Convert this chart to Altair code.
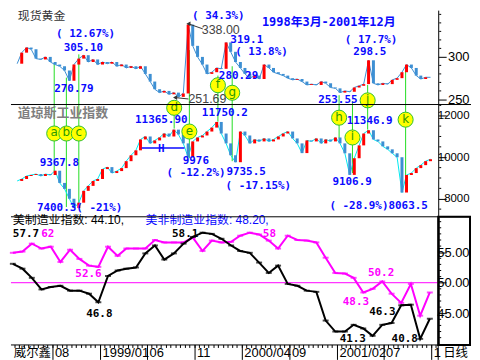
import altair as alt
import pandas as pd

# ---------------- data ----------------
series_start, series_end, n_points = "1998-03-23", "2001-12-13", 88

gold_close = [
    292, 305, 311, 309, 298, 297, 300, 294, 291, 289,
    284, 272, 291, 298, 302, 294, 297, 291, 294, 292,
    294, 289, 291, 287, 289, 286, 289, 280, 271, 262,
    258, 260, 256, 258, 253, 257, 338, 313, 300, 291,
    280, 282, 287, 286, 317, 306, 294, 287, 280, 275,
    278, 274, 291, 287, 282, 280, 278, 275, 273, 274,
    271, 267, 268, 267, 271, 269, 264, 263, 258, 260,
    259, 264, 266, 268, 296, 269, 267, 269, 268, 273,
    275, 282, 291, 287, 278, 274, 276, 276,
]

dow_close = [
    8857, 8952, 9095, 9143, 9190, 9095, 9190, 9143, 9350, 8762,
    8476, 8000, 7550, 7810, 8381, 8619, 8857, 8952, 9429, 9524,
    9238, 9333, 9476, 9810, 10095, 10333, 10857, 11000, 10667, 10810,
    10952, 11143, 11000, 11330, 11095, 10667, 10000, 10762, 10952, 11048,
    11238, 11429, 11700, 11143, 10667, 10095, 9760, 11238, 11048, 10667,
    10857, 10762, 10905, 10762, 10857, 11000, 11143, 11238, 10905, 10667,
    10200, 10810, 10762, 10905, 10667, 10857, 10762, 10952, 10667, 10190,
    9150, 9952, 10571, 11143, 11300, 10857, 10762, 10524, 10381, 10190,
    10000, 8300, 9143, 9238, 9476, 9619, 9810, 9905,
]

pmi_first_month = "1998-03-25"
pmi_mfg = [
    53.1, 52.3, 50.8, 48.9, 49.3, 49.5, 48.7, 48.7, 48.2, 46.8,
    51.1, 52.0, 52.3, 52.5, 54.8, 56.1, 53.8, 54.8, 56.4, 57.5,
    58.2, 58.0, 57.2, 56.1, 55.2, 54.9, 53.3, 51.6, 52.8, 49.8,
    49.5, 48.7, 48.5, 43.8, 42.0, 42.0, 43.1, 42.5, 41.3, 43.1,
    43.4, 46.3, 46.4, 40.8, 44.1,
]
pmi_nonmfg = [
    54.9, 55.1, 56.4, 55.6, 55.9, 53.4, 55.4, 53.9, 52.8, 52.6,
    55.9, 54.4, 55.6, 55.6, 55.6, 57.0, 56.6, 56.6, 56.6, 57.4,
    55.2, 56.9, 56.6, 56.7, 57.7, 58.2, 57.9, 56.9, 55.6, 57.7,
    57.0, 56.9, 56.6, 54.1, 51.6, 51.5, 50.8, 48.4, 49.0, 50.2,
    48.2, 46.7, 49.8, 44.6, 48.4,
]

# axis ticks
gold_major = [250, 300]
gold_minor = [260, 270, 280, 290, 310, 320, 330, 340, 350]
dow_major = [8000, 10000, 12000]
dow_minor = [7500, 8500, 9000, 9500, 10500, 11000, 11500, 12500]
pmi_major = [45, 50, 55]
pmi_minor = [41, 42, 43, 44, 46, 47, 48, 49, 51, 52, 53, 54, 56, 57, 58, 59, 60]

# marked events (letters in yellow circles, green vertical lines)
event_letters = ["a", "b", "c", "d", "e", "f", "g", "h", "i", "j", "k"]
event_dates = ["1998-07-23", "1998-09-01", "1998-10-12", "1999-08-22", "1999-10-11",
               "2000-01-13", "2000-02-29", "2001-02-15", "2001-03-31", "2001-05-20", "2001-09-22"]
event_gold_top = [292, 275.6, 303, None, 308, 278, 289, 255, 248, 267, 283]
event_dow_bottom = [9333, 7600, 7600, 11381, 9952, 11714, 9810, 10905, 9238, 11333, 8700]
event_circle_panel = ["dow", "dow", "dow", "dow", "dow", "gold", "gold", "dow", "dow", "gold", "dow"]
event_circle_value = [11143, 11143, 11143, 12381, 11238, 266.7, 257.8, 11905, 10952, 248.9, 11810]

# annotations
gold_blue_text = ["( 12.67%)", "305.10", "270.79", "( 34.3%)", "319.1", "( 13.8%)",
                  "280.29", "( 17.7%)", "298.5", "253.55"]
gold_blue_date = ["1998-07-29", "1998-08-23", "1998-07-23", "1999-10-20", "2000-02-23",
                  "2000-03-10", "2000-01-16", "2001-03-06", "2001-04-03", "2000-12-08"]
gold_blue_value = [327.4, 311, 262.8, 347.8, 319.8, 305.4, 277, 320, 305.4, 249.6]
gold_grey_text = ["338.00", "251.69"]
gold_grey_date = ["1999-11-21", "1999-10-08"]
gold_grey_value = [332, 251]
gold_arrow_from = ["1999-10-08", "1999-08-25"]
gold_arrow_to = ["1999-11-24", "1999-10-08"]
gold_arrow_v1 = [338.9, 252.2]
gold_arrow_v2 = [333.0, 250.5]

dow_blue_text = ["9367.8", "7400.3( -21%)", "11365.90", "9976", "( -12.2%)", "11750.2",
                 "9735.5", "( -17.15%)", "11346.9", "9106.9", "( -28.9%)8063.5", "H"]
dow_blue_date = ["1998-06-05", "1998-05-27", "1999-04-15", "1999-09-19", "1999-07-28",
                 "1999-11-21", "2000-02-10", "2000-02-07", "2001-03-12", "2001-01-24",
                 "2001-01-14", "1999-06-30"]
dow_blue_value = [9739, 7570, 11777, 9840, 9245, 12109, 9265, 8601, 11730, 8791, 7653, 10403]
dow_h_line = ["1999-05-07", "1999-09-25", 10450]

pmi_black_text = ["57.7", "46.8", "58.1", "46.3", "41.3", "40.8"]
pmi_black_date = ["1998-03-25", "1998-11-16", "1999-08-19", "2001-05-14", "2001-02-08", "2001-07-25"]
pmi_black_value = [58.0, 44.9, 57.95, 45.2, 40.7, 40.7]
pmi_mag_text = ["62", "52.6", "58", "50.2", "48.3"]
pmi_mag_date = ["1998-06-24", "1998-10-12", "2000-06-06", "2001-05-10", "2001-02-18"]
pmi_mag_value = [58.0, 51.5, 58.0, 51.6, 46.9]

x_label_dates = ["1998-08-01", "1999-01-01", "1999-06-01", "1999-11-01", "2000-04-01",
                 "2000-09-01", "2001-02-01", "2001-07-01", "2001-12-01"]
x_label_text = ["08", "1999/01", "06", "11", "2000/04", "09", "2001/02", "07", "1"]

# ---------------- layout / helpers ----------------
W = 430
RIGHT = 33
H_GOLD, H_DOW, H_PMI, H_AXIS = 95, 113, 129, 15
BLUE = "#0a0aff"
MAG = "#ff00ff"
GREEN = "#22dd22"
MONO = "DejaVu Sans Mono"
SANS = "Liberation Sans, Noto Sans CJK SC"

D0 = alt.DateTime(year=1998, month=3, date=19, utc=True)
D1 = alt.DateTime(year=2001, month=12, date=22, utc=True)
XS = alt.Scale(domain=[D0, D1])
one = pd.DataFrame({"k": [0]})

series_dates = pd.date_range(series_start, series_end, periods=n_points).strftime("%Y-%m-%d").tolist()
pmi_dates = pd.date_range(pmi_first_month, periods=len(pmi_mfg),
                          freq=pd.DateOffset(months=1)).strftime("%Y-%m-%d").tolist()


def X(field="date"):
    return alt.X(f"{field}:T", scale=XS, axis=None)


def right_axis(values, fmt, size, width=1):
    return alt.Axis(
        orient="right", values=values, format=fmt, tickSize=8,
        labelAlign="right", labelPadding=23, labelFont="Liberation Sans",
        labelFontSize=size, labelColor="black", tickColor="black",
        domainColor="black", domainWidth=width, grid=False, title=None, labelOverlap=False,
    )


class Panel:
    def __init__(self, scale, axis):
        self.scale, self.axis = scale, axis

    def y(self, field):
        return alt.Y(field, scale=self.scale, axis=self.axis)

    def minor(self, values):
        return alt.Chart(pd.DataFrame({"v": values})).mark_rule(color="black").encode(
            x=alt.value(W + 1), x2=alt.value(W + 3), y=self.y("v:Q"))

    def texts(self, t, d, v, color, font, size, weight="normal", align="left"):
        df = pd.DataFrame({"t": t, "date": d, "v": v})
        return alt.Chart(df).mark_text(
            align=align, baseline="middle", color=color, font=font,
            fontSize=size, fontWeight=weight,
        ).encode(x=X(), y=self.y("v:Q"), text="t:N")


def candles(closes):
    opens = [closes[0]] + closes[:-1]
    return pd.DataFrame({
        "date": series_dates, "open": opens, "close": closes,
        "dir": ["up" if c >= o else "down" for o, c in zip(opens, closes)],
    })


def frame_top():
    return alt.Chart(one).mark_rule(color="black", strokeWidth=1).encode(
        x=alt.value(0), x2=alt.value(W + RIGHT), y=alt.value(0))


ev = pd.DataFrame({
    "letter": event_letters, "date": event_dates, "gold_top": event_gold_top,
    "dow_bottom": event_dow_bottom, "panel": event_circle_panel, "cv": event_circle_value,
})

# ---------------- gold panel ----------------
G = Panel(alt.Scale(domain=[244, 355], nice=False, zero=False), right_axis(gold_major, "d", 13))
gdf = candles(gold_close)
ev_gold = ev.dropna(subset=["gold_top"])[["letter", "date", "gold_top"]].assign(bottom=244)
circ_gold = ev[ev.panel == "gold"][["letter", "date", "cv"]]
arrows = pd.DataFrame({"d1": gold_arrow_from, "d2": gold_arrow_to, "v1": gold_arrow_v1, "v2": gold_arrow_v2})

gold_panel = alt.layer(
    alt.Chart(ev_gold).mark_rule(color=GREEN, strokeWidth=1).encode(
        x=X(), y=G.y("gold_top:Q"), y2="bottom:Q"),
    alt.Chart(gdf).mark_line(color="#3d8fd3", strokeWidth=1).encode(x=X(), y=G.y("close:Q")),
    alt.Chart(gdf).mark_bar(size=3).encode(
        x=X(), y=G.y("open:Q"), y2="close:Q",
        color=alt.Color("dir:N", scale=alt.Scale(domain=["up", "down"], range=["#ff0000", "#3d8fd3"]),
                        legend=None)),
    G.minor(gold_minor),
    alt.Chart(arrows).mark_rule(color="#333333").encode(x=X("d1"), x2="d2:T", y=G.y("v1:Q"), y2="v2:Q"),
    alt.Chart(arrows).mark_point(shape="triangle-left", filled=True, color="#333333", size=22,
                                 opacity=1).encode(x=X("d1"), y=G.y("v1:Q")),
    alt.Chart(circ_gold).mark_circle(color="#ffff00", stroke="#2fbf2f", strokeWidth=1,
                                     size=230, opacity=1).encode(x=X(), y=G.y("cv:Q")),
    alt.Chart(circ_gold).mark_text(font="DejaVu Sans", fontSize=12, color="#2a9a00",
                                   baseline="middle", dy=-1).encode(
        x=X(), y=G.y("cv:Q"), text="letter:N"),
    G.texts(gold_blue_text, gold_blue_date, gold_blue_value, BLUE, MONO, 11, "bold"),
    G.texts(gold_grey_text, gold_grey_date, gold_grey_value, "#444444", "Liberation Sans", 12.5),
    G.texts(["现货黄金"], ["1998-03-25"], [347.5], "#333333", SANS, 12),
    G.texts(["1998年3月-2001年12月"], ["2000-06-06"], [341], BLUE, MONO + ", Noto Sans CJK SC", 12, "bold"),
).properties(width=W, height=H_GOLD)

# ---------------- dow panel ----------------
Dw = Panel(alt.Scale(domain=[7130, 12540], nice=False, zero=False), right_axis(dow_major, "d", 11.5))
ddf = candles(dow_close)
ev_dow = ev[["letter", "date", "dow_bottom"]].assign(top=12540)
circ_dow = ev[ev.panel == "dow"][["letter", "date", "cv"]]

dow_panel = alt.layer(
    alt.Chart(ev_dow).mark_rule(color=GREEN, strokeWidth=1).encode(
        x=X(), y=Dw.y("top:Q"), y2="dow_bottom:Q"),
    alt.Chart(ddf).mark_line(color="#00e8f0", strokeWidth=1).encode(x=X(), y=Dw.y("close:Q")),
    alt.Chart(ddf).mark_bar(size=3).encode(
        x=X(), y=Dw.y("open:Q"), y2="close:Q",
        color=alt.Color("dir:N", scale=alt.Scale(domain=["up", "down"], range=[MAG, "#00e8f0"]),
                        legend=None)),
    Dw.minor(dow_minor),
    alt.Chart(pd.DataFrame({"d1": [dow_h_line[0]], "d2": [dow_h_line[1]], "v": [dow_h_line[2]]}))
    .mark_rule(color=BLUE, strokeWidth=1.5).encode(x=X("d1"), x2="d2:T", y=Dw.y("v:Q")),
    alt.Chart(circ_dow).mark_circle(color="#ffff00", stroke="#2fbf2f", strokeWidth=1,
                                    size=230, opacity=1).encode(x=X(), y=Dw.y("cv:Q")),
    alt.Chart(circ_dow).mark_text(font="DejaVu Sans", fontSize=12, color="#2a9a00",
                                  baseline="middle", dy=-1).encode(
        x=X(), y=Dw.y("cv:Q"), text="letter:N"),
    Dw.texts(dow_blue_text, dow_blue_date, dow_blue_value, BLUE, MONO, 11, "bold"),
    Dw.texts(["道琼斯工业指数"], ["1998-03-25"], [12109], "#7f7f7f", SANS, 13, "bold"),
    frame_top(),
).properties(width=W, height=H_DOW)

# ---------------- PMI panel ----------------
P = Panel(alt.Scale(domain=[39.8, 60.8], nice=False, zero=False), right_axis(pmi_major, ".2f", 13, 2))
pdf = pd.DataFrame({"date": pmi_dates, "mfg": pmi_mfg, "non": pmi_nonmfg})
fifty = pd.DataFrame({"v": [50]})

pmi_panel = alt.layer(
    alt.Chart(fifty).mark_rule(color=MAG, strokeWidth=1).encode(y=P.y("v:Q")),
    alt.Chart(pdf).mark_line(color=MAG, strokeWidth=2).encode(x=X(), y=P.y("non:Q")),
    alt.Chart(pdf).mark_tick(color=MAG, orient="horizontal", size=6, thickness=2).encode(
        x=X(), y=P.y("non:Q")),
    alt.Chart(pdf).mark_line(color="black", strokeWidth=2).encode(x=X(), y=P.y("mfg:Q")),
    alt.Chart(pdf).mark_tick(color="black", orient="horizontal", size=6, thickness=2).encode(
        x=X(), y=P.y("mfg:Q")),
    P.minor(pmi_minor),
    P.texts(pmi_black_text, pmi_black_date, pmi_black_value, "black", MONO, 11, "bold"),
    P.texts(pmi_mag_text, pmi_mag_date, pmi_mag_value, MAG, MONO, 11, "bold"),
    P.texts(["美制造业指数: 44.10,"], ["1998-03-25"], [60.3], "black", SANS, 12),
    P.texts(["美非制造业指数: 48.20,"], ["1999-05-26"], [60.3], BLUE, SANS, 12),
    frame_top(),
    alt.Chart(one).mark_rect(fillOpacity=0, stroke="black", strokeWidth=2).encode(
        x=alt.value(W), x2=alt.value(W + RIGHT - 1), y=alt.value(0), y2=alt.value(H_PMI)),
).properties(width=W, height=H_PMI)

# ---------------- date axis strip ----------------
minor = pd.DataFrame({"date": pd.date_range("1998-04-01", "2001-12-16", freq="SMS").strftime("%Y-%m-%d")})
majors = pd.DataFrame({"date": x_label_dates, "t": x_label_text})

axis_panel = alt.layer(
    alt.Chart(one).mark_rule(color="black").encode(x=alt.value(0), x2=alt.value(W), y=alt.value(0)),
    alt.Chart(minor).mark_rule(color="black").encode(x=X(), y=alt.value(0), y2=alt.value(3)),
    alt.Chart(majors).mark_rule(color="black").encode(x=X(), y=alt.value(0), y2=alt.value(H_AXIS)),
    alt.Chart(majors).mark_text(align="left", baseline="middle", dx=2, font="Liberation Sans",
                                fontSize=13, color="black").encode(
        x=X(), y=alt.value(8), text="t:N"),
    alt.Chart(one).mark_rule(color="black").encode(x=alt.value(W), y=alt.value(0), y2=alt.value(H_AXIS)),
    alt.Chart(pd.DataFrame({"date": ["1998-03-28", "2002-01-07"], "t": ["威尔鑫", "日线"]}))
    .mark_text(align="left", baseline="middle", font=SANS, fontSize=12.5, color="black").encode(
        x=X(), y=alt.value(8), text="t:N"),
).properties(width=W, height=H_AXIS)

chart = (
    alt.vconcat(gold_panel, dow_panel, pmi_panel, axis_panel, spacing=0, bounds="flush")
    .properties(padding=0)
    .configure_view(stroke="transparent")
)

chart.save("out.html", embed_options={"renderer": "svg", "actions": False})
